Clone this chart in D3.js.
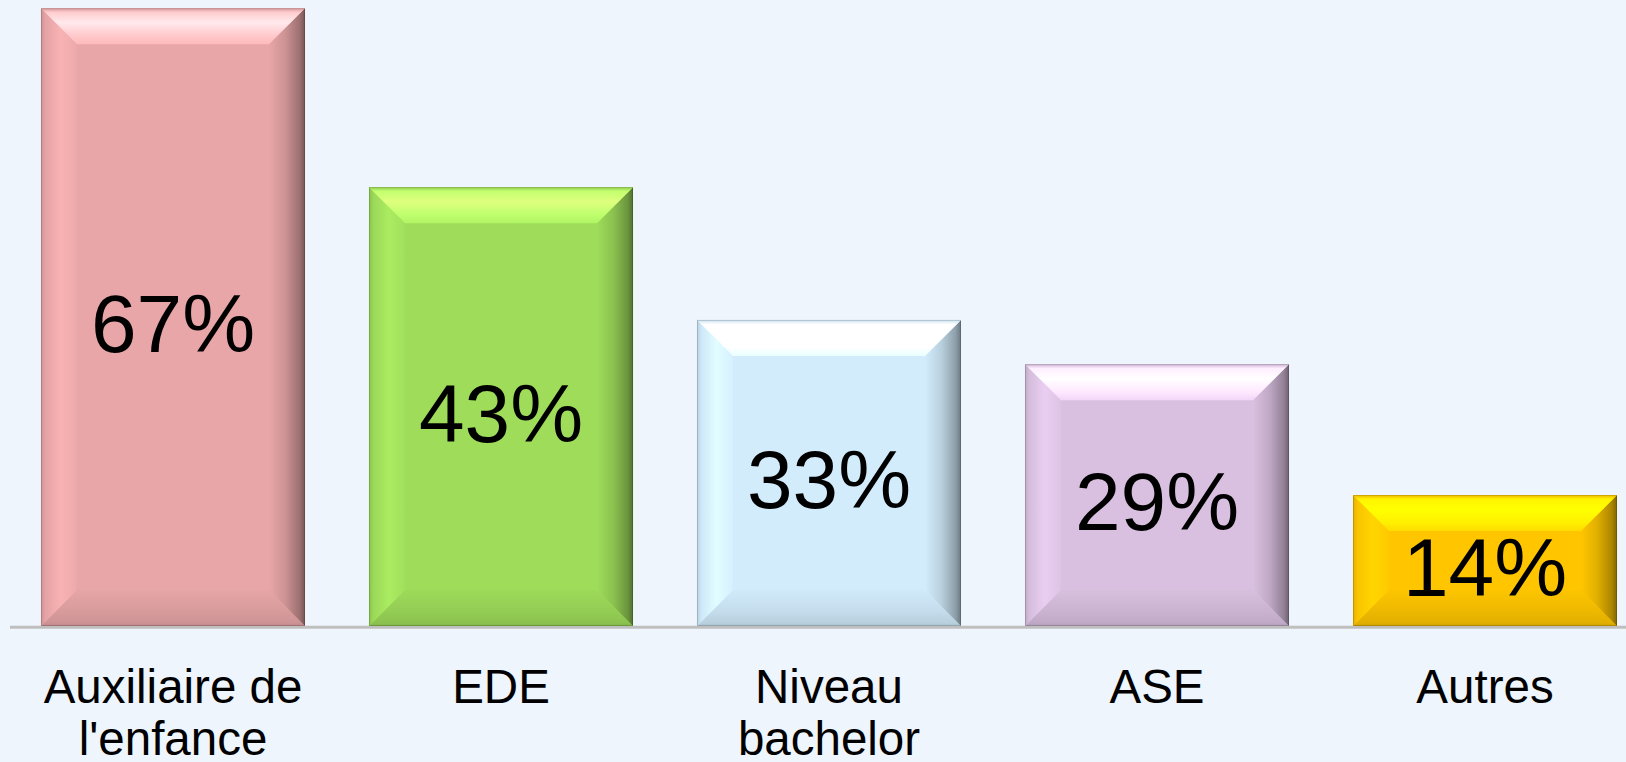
<!DOCTYPE html>
<html>
<head>
<meta charset="utf-8">
<script src="https://cdn.jsdelivr.net/npm/d3@7"></script>
<style>
  body { margin: 0; background: #eef5fc; }
  svg { display: block; }
</style>
</head>
<body>
<svg id="chart"></svg>
<script>
// data
const categories = ["Auxiliaire de l'enfance", "EDE", "Niveau bachelor", "ASE", "Autres"];
const categoryLines = [["Auxiliaire de", "l'enfance"], ["EDE"], ["Niveau", "bachelor"], ["ASE"], ["Autres"]];
const barHeights = [67, 47.6, 33.2, 28.4, 14.2];   // height of each bar as drawn
const valueLabels = ["67%", "43%", "33%", "29%", "14%"];
const barColors = ["#e8a6a8", "#9edc5a", "#d2ecfc", "#d9c0e0", "#ffc600"];

class BevelBarChart {
    constructor(config) {
        this.config = {
            parent: config.parent,
            width: config.width || 1626,
            height: config.height || 762,
            baseline: config.baseline || 626,
            top: config.top || 8.3,
            bevel: config.bevel || 36,
            font: config.font || "Arial, 'Liberation Sans', sans-serif"
        };
        this.init();
    }

    init() {
        let self = this;

        self.svg = d3.select(self.config.parent)
            .attr('width', self.config.width)
            .attr('height', self.config.height);

        self.svg.append('rect')
            .attr('width', self.config.width)
            .attr('height', self.config.height)
            .attr('fill', '#eef5fc');

        self.defs = self.svg.append('defs');

        self.xscale = d3.scaleBand()
            .domain(categories)
            .range([9, 1649])
            .paddingInner(0.195)
            .paddingOuter(0.0975);

        self.yscale = d3.scaleLinear()
            .domain([0, 67])
            .range([self.config.baseline, self.config.top]);

        // axis line
        self.svg.append('line')
            .attr('x1', 10)
            .attr('x2', self.config.width)
            .attr('y1', self.config.baseline + 1.3)
            .attr('y2', self.config.baseline + 1.3)
            .attr('stroke', '#bfbfbf')
            .attr('stroke-width', 3);

        self.chart = self.svg.append('g');
    }

    gradient(id, vertical, stops) {
        let g = this.defs.append('linearGradient')
            .attr('id', id)
            .attr('x1', 0).attr('y1', 0)
            .attr('x2', vertical ? 0 : 1)
            .attr('y2', vertical ? 1 : 0);
        stops.forEach(s => g.append('stop')
            .attr('offset', s[0])
            .attr('stop-color', s[1]));
    }

    render() {
        let self = this;
        const b = self.config.bevel;

        categories.forEach((c, i) => {
            const base = d3.color(barColors[i]);
            const x0 = self.xscale(c);
            const x1 = x0 + self.xscale.bandwidth();
            const y0 = self.yscale(barHeights[i]);
            const y1 = self.yscale(0);

            self.gradient(`top${i}`, true, [
                [0, base.darker(0.15)], [0.12, base.brighter(0.6)],
                [0.4, base.brighter(0.95)], [0.75, base.brighter(0.55)], [1, base.brighter(0.3)]
            ]);
            self.gradient(`left${i}`, false, [
                [0, base.darker(0.35)], [0.12, base.darker(0.05)],
                [0.55, base.brighter(0.2)], [1, base.brighter(0.05)]
            ]);
            self.gradient(`right${i}`, false, [
                [0, base], [0.45, base.darker(0.35)],
                [0.85, base.darker(1.1)], [1, base.darker(1.9)]
            ]);
            self.gradient(`bottom${i}`, true, [
                [0, base.darker(0.02)], [0.6, base.darker(0.2)],
                [0.92, base.darker(0.35)], [1, base.darker(0.6)]
            ]);

            const g = self.chart.append('g');

            g.append('rect')
                .attr('x', x0).attr('y', y0)
                .attr('width', x1 - x0).attr('height', y1 - y0)
                .attr('fill', base);

            const faces = [
                [`bottom${i}`, [[x0, y1], [x1, y1], [x1 - b, y1 - b], [x0 + b, y1 - b]]],
                [`left${i}`, [[x0, y0], [x0 + b, y0 + b], [x0 + b, y1 - b], [x0, y1]]],
                [`right${i}`, [[x1, y0], [x1 - b, y0 + b], [x1 - b, y1 - b], [x1, y1]]],
                [`top${i}`, [[x0, y0], [x1, y0], [x1 - b, y0 + b], [x0 + b, y0 + b]]]
            ];
            g.selectAll('polygon')
                .data(faces)
                .join('polygon')
                .attr('points', d => d[1].map(p => p.join(',')).join(' '))
                .attr('fill', d => `url(#${d[0]})`);

            g.append('rect')
                .attr('x', x0 + 0.5).attr('y', y0 + 0.5)
                .attr('width', x1 - x0 - 1).attr('height', y1 - y0 - 1)
                .attr('fill', 'none')
                .attr('stroke', 'rgba(0,0,0,0.15)')
                .attr('stroke-width', 1);

            // value label in the middle of the bar
            g.append('text')
                .attr('x', (x0 + x1) / 2)
                .attr('y', (y0 + y1) / 2 + 35)
                .attr('text-anchor', 'middle')
                .style('font-family', self.config.font)
                .style('font-size', '82px')
                .attr('fill', '#000')
                .text(valueLabels[i]);

            // category label
            const t = self.svg.append('text')
                .attr('text-anchor', 'middle')
                .style('font-family', self.config.font)
                .style('font-size', '47.5px')
                .attr('fill', '#000');
            categoryLines[i].forEach((line, k) => {
                t.append('tspan')
                    .attr('x', (x0 + x1) / 2)
                    .attr('y', 703 + k * 52)
                    .text(line);
            });
        });
    }
}

const chart = new BevelBarChart({ parent: '#chart', width: 1626, height: 762 });
chart.render();
</script>
</body>
</html>
